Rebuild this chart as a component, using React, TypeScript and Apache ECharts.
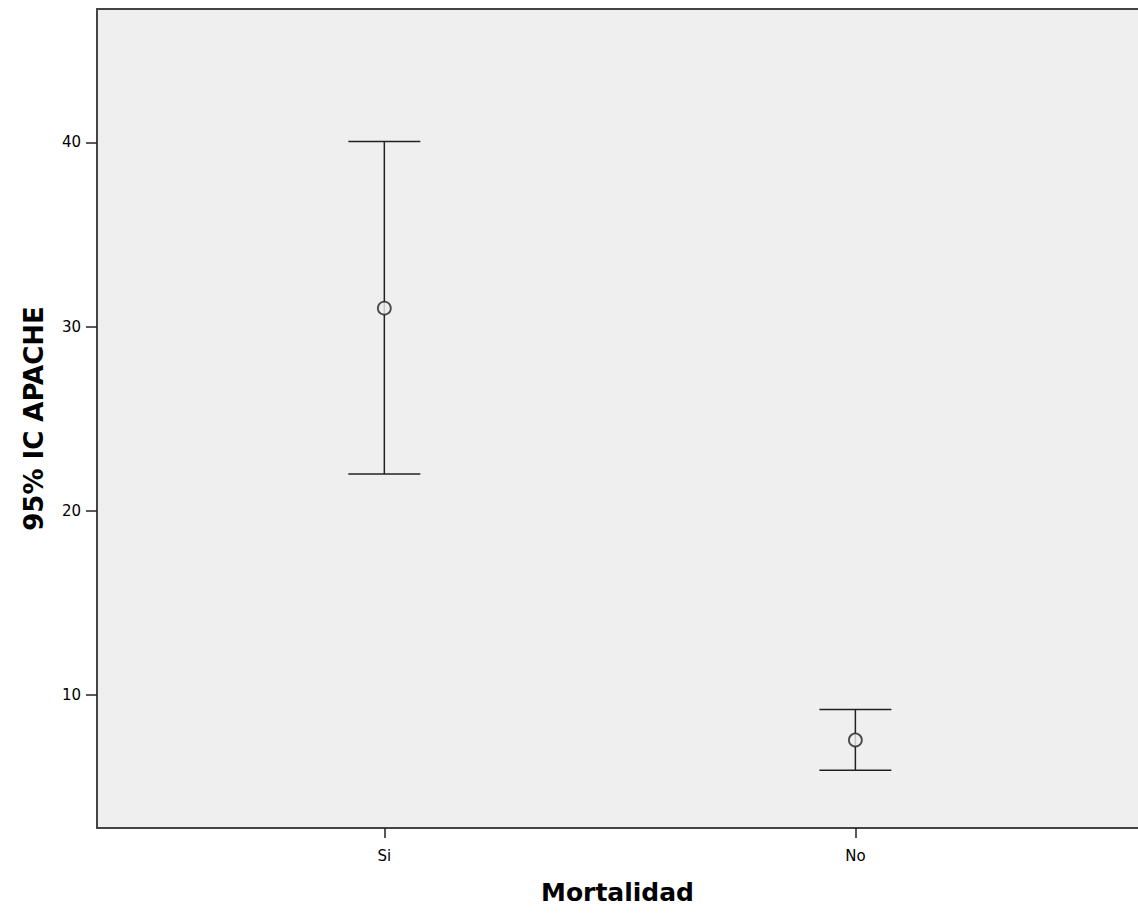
import React, { useEffect, useRef } from "react";
import * as echarts from "echarts";

const categories = ["Si", "No"];
const means = [31.0, 7.55];
const lowerCI = [22.0, 5.9];
const upperCI = [40.05, 9.2];
const yTicks = [10, 20, 30, 40];

export default function App() {
  const ref = useRef<HTMLDivElement>(null);
  useEffect(() => {
    if (!ref.current) return;
    const chart = echarts.init(ref.current, undefined, { renderer: "svg" });
    const xPos = categories.map((_, i) => i + 1);
    const font = "DejaVu Sans";
    chart.setOption({
      animation: false,
      backgroundColor: "#ffffff",
      grid: {
        left: 97,
        top: 9,
        right: 0,
        bottom: 87,
        show: true,
        backgroundColor: "#efefef",
        borderWidth: 0,
      },
      xAxis: [
        {
          type: "value",
          min: 0.39,
          max: 2.6,
          name: "Mortalidad",
          nameLocation: "middle",
          nameGap: 52,
          nameTextStyle: { fontFamily: font, fontSize: 25, fontWeight: "bold", color: "#000" },
          splitLine: { show: false },
          axisLine: { show: true, onZero: false, lineStyle: { color: "#444", width: 2 } },
          axisTick: { show: true, length: 10, customValues: xPos, lineStyle: { color: "#222", width: 1.5 } },
          axisLabel: {
            customValues: xPos,
            formatter: (v: number) => categories[Math.round(v) - 1] ?? "",
            fontFamily: font,
            fontSize: 15,
            color: "#000",
            margin: 20,
          },
        },
        {
          type: "value",
          position: "top",
          min: 0.39,
          max: 2.6,
          splitLine: { show: false },
          axisLine: { show: true, onZero: false, lineStyle: { color: "#444", width: 2 } },
          axisTick: { show: false },
          axisLabel: { show: false },
        },
      ],
      yAxis: {
        type: "value",
        min: 2.77,
        max: 47.25,
        name: "95% IC APACHE",
        nameLocation: "middle",
        nameGap: 50,
        nameTextStyle: { fontFamily: font, fontSize: 26, fontWeight: "bold", color: "#000" },
        splitLine: { show: false },
        axisLine: { show: true, onZero: false, lineStyle: { color: "#444", width: 2 } },
        axisTick: { show: true, length: 11, customValues: yTicks, lineStyle: { color: "#222", width: 1.5 } },
        axisLabel: {
          customValues: yTicks,
          fontFamily: font,
          fontSize: 15,
          color: "#000",
          margin: 16,
        },
      },
      series: [
        {
          type: "custom",
          data: categories.map((_, i) => [xPos[i], lowerCI[i], upperCI[i]]),
          renderItem: (params: any, api: any) => {
            const x = api.value(0);
            const lo = api.coord([x, api.value(1)]);
            const hi = api.coord([x, api.value(2)]);
            const hw = 36;
            const style = { stroke: "#222", lineWidth: 1.5 };
            return {
              type: "group",
              children: [
                { type: "line", shape: { x1: lo[0], y1: lo[1], x2: hi[0], y2: hi[1] }, style },
                { type: "line", shape: { x1: hi[0] - hw, y1: hi[1], x2: hi[0] + hw, y2: hi[1] }, style },
                { type: "line", shape: { x1: lo[0] - hw, y1: lo[1], x2: lo[0] + hw, y2: lo[1] }, style },
              ],
            };
          },
          z: 2,
        },
        {
          type: "scatter",
          data: categories.map((_, i) => [xPos[i], means[i]]),
          symbol: "circle",
          symbolSize: 13,
          itemStyle: { color: "#efefef", borderColor: "#222", borderWidth: 1.8 },
          z: 3,
        },
      ],
    });
    return () => chart.dispose();
  }, []);
  return (
    <div
      ref={ref}
      style={{ position: "fixed", left: 0, top: 0, width: 1138, height: 915 }}
    />
  );
}
